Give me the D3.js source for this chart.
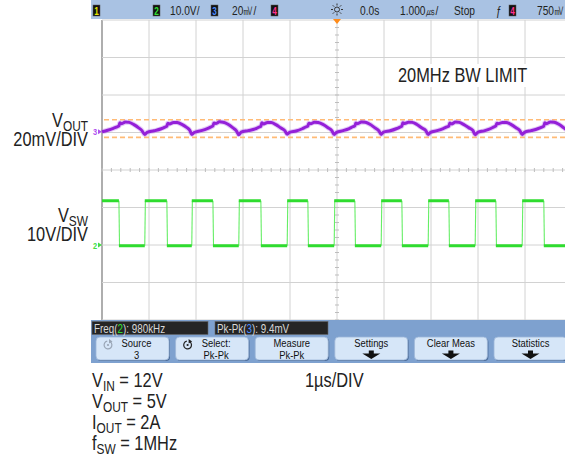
<!DOCTYPE html>
<html><head><meta charset="utf-8">
<script src="https://cdn.jsdelivr.net/npm/d3@7"></script>
<style>
html,body{margin:0;padding:0;background:#fff;}
svg{display:block;}
.lbl{font-family:"Liberation Sans","Arial",sans-serif;fill:#222;}
.ui{font-family:"Liberation Sans","Arial",sans-serif;}
</style></head>
<body>
<svg id="c" width="565" height="462"></svg>
<script>
// ---------------- data ----------------
const timeDomainUs = [-5, 5];          // 1us/DIV, 10 divisions
const divDomain = [-4, 4];             // 8 vertical divisions
const timeGridUs = [-5,-4,-3,-2,-1,0,1,2,3,4,5];
const divGrid = [-4,-3,-2,-1,0,1,2,3,4];

// Channel 2 (V_SW, 10V/DIV)
const ch2OffsetDiv = -2.0;
const ch2VoltsPerDiv = 10;
const swLevelsV = [11.8, -0.2];        // high, low
const swFallUs = [-4.64, -3.62, -2.64, -1.62, -0.62, 0.38, 1.38, 2.38, 3.38, 4.40];
const swRiseUs = [-4.09, -3.09, -2.09, -1.06, -0.06, 0.94, 1.94, 2.94, 3.94];

// Channel 3 (V_OUT ripple, 20mV/DIV)
const ch3OffsetDiv = 1.02;
const ch3mVPerDiv = 20;
const voutTimeUs = [
 -5.00,-4.88,-4.76,-4.68,-4.64,-4.62,-4.58,-4.50,-4.42,-4.32,-4.22,-4.15,-4.09,
 -4.04,-3.89,-3.74,-3.66,-3.62,-3.60,-3.56,-3.48,-3.40,-3.30,-3.20,-3.13,-3.09,
 -3.04,-2.89,-2.76,-2.68,-2.64,-2.62,-2.58,-2.50,-2.42,-2.32,-2.22,-2.14,-2.09,
 -2.04,-1.89,-1.74,-1.66,-1.62,-1.60,-1.56,-1.48,-1.40,-1.30,-1.20,-1.11,-1.06,
 -1.01,-0.87,-0.74,-0.66,-0.62,-0.60,-0.56,-0.48,-0.40,-0.30,-0.20,-0.11,-0.06,
 -0.01, 0.13, 0.26, 0.34, 0.38, 0.40, 0.44, 0.52, 0.60, 0.70, 0.80, 0.89, 0.94,
  0.99, 1.13, 1.26, 1.34, 1.38, 1.40, 1.44, 1.52, 1.60, 1.70, 1.80, 1.89, 1.94,
  1.99, 2.13, 2.26, 2.34, 2.38, 2.40, 2.44, 2.52, 2.60, 2.70, 2.80, 2.89, 2.94,
  2.99, 3.13, 3.26, 3.34, 3.38, 3.40, 3.44, 3.52, 3.60, 3.70, 3.80, 3.89, 3.94,
  3.99, 4.13, 4.27, 4.36, 4.40, 4.42, 4.46, 4.54, 4.62, 4.72, 4.82, 4.90, 4.95, 5.00
];
const voutRipplemV = [
  0.0, 0.8, 1.8, 2.6, 3.1, 4.8, 4.3, 5.2, 5.0, 3.8, 2.1, 0.6,-1.5,
 -0.3, 0.5, 1.6, 2.5, 3.0, 4.6, 4.2, 5.0, 4.9, 3.9, 2.3, 0.7,-1.4,
 -0.4, 0.6, 1.7, 2.6, 3.1, 4.7, 4.4, 5.3, 5.1, 4.0, 2.2, 0.5,-1.6,
 -0.2, 0.6, 1.5, 2.5, 2.9, 4.8, 4.2, 5.0, 5.0, 3.8, 2.1, 0.6,-1.3,
 -0.3, 0.4, 1.6, 2.6, 3.0, 4.6, 4.3, 5.1, 4.9, 3.9, 2.3, 0.6,-1.5,
 -0.3, 0.6, 1.7, 2.7, 3.1, 4.7, 4.3, 5.2, 5.1, 4.0, 2.2, 0.5,-1.4,
 -0.2, 0.5, 1.6, 2.5, 3.0, 4.8, 4.4, 5.1, 5.0, 3.9, 2.1, 0.6,-1.5,
 -0.3, 0.6, 1.7, 2.6, 3.0, 4.7, 4.2, 5.2, 5.0, 3.8, 2.2, 0.7,-1.6,
 -0.4, 0.5, 1.6, 2.6, 3.1, 4.6, 4.3, 5.0, 5.0, 3.9, 2.3, 0.6,-1.4,
 -0.3, 0.6, 1.6, 2.5, 3.0, 4.8, 4.3, 5.2, 5.1, 4.0, 2.2, 0.6,-1.5,-0.3
];
const cursorsmV = [6.4, -3.0];         // Pk-Pk cursors

// header / measurement texts
const headerItems = [
  {type:"box", x:93, label:"1", color:"#e8e800"},
  {type:"box", x:153, label:"2", color:"#33e033"},
  {type:"text", x:170, label:"10.0V/"},
  {type:"box", x:211, label:"3", color:"#4a8cff"},
  {type:"text", x:232, label:"20\u33B7/"},
  {type:"box", x:271, label:"4", color:"#ff3090"},
  {type:"text", x:360, label:"0.0s"},
  {type:"text", x:400, label:"1.000\u33B2/"},
  {type:"text", x:454, label:"Stop"},
  {type:"text", x:496, label:"\u0192"},
  {type:"box", x:509, label:"4", color:"#ff3090"},
  {type:"text", x:537, label:"750\u33B7"}
];
const buttonLabels = [["Source","3"],["Select:","Pk-Pk"],["Measure","Pk-Pk"],["Settings",""],["Clear Meas",""],["Statistics",""]];
const buttonIcons = ["cycle","cycle","none","arrow","arrow","arrow"];

// ---------------- drawing ----------------
const NARROW = 0.82;
const svg = d3.select("#c");
const x = d3.scaleLinear().domain(timeDomainUs).range([102, 572]);
const yDiv = d3.scaleLinear().domain(divDomain).range([320, 20]);
const y2 = v => yDiv(ch2OffsetDiv + v / ch2VoltsPerDiv);
const y3 = mv => yDiv(ch3OffsetDiv + mv / ch3mVPerDiv);

function ctext(xx, yy, size, cls, anchor, sx) {
  const g = svg.append("g").attr("transform", `translate(${xx},${yy}) scale(${sx || NARROW},1)`);
  return g.append("text").attr("class", cls).attr("x", 0).attr("y", 0)
    .attr("font-size", size).attr("text-anchor", anchor || "start");
}

// grid
const grid = svg.append("g");
grid.selectAll("line.v").data(timeGridUs).join("line")
  .attr("x1", d => x(d)).attr("x2", d => x(d)).attr("y1", yDiv(4)).attr("y2", yDiv(-4))
  .attr("stroke", d => d === -5 ? "#9a9a9a" : "#d2d2d2").attr("stroke-width", d => d === -5 ? 1.6 : 1);
grid.selectAll("line.h").data(divGrid).join("line")
  .attr("x1", x(-5)).attr("x2", x(5)).attr("y1", d => yDiv(d)).attr("y2", d => yDiv(d))
  .attr("stroke", "#d2d2d2").attr("stroke-width", 1);
const minorT = d3.range(-5, 5.001, 0.2);
grid.selectAll("line.mt").data(minorT).join("line")
  .attr("x1", d => x(d)).attr("x2", d => x(d)).attr("y1", yDiv(0) - 2).attr("y2", yDiv(0) + 2)
  .attr("stroke", "#bdbdbd");
const minorD = d3.range(-4, 4.001, 0.2);
grid.selectAll("line.md").data(minorD).join("line")
  .attr("x1", x(0) - 2).attr("x2", x(0) + 2).attr("y1", d => yDiv(d)).attr("y2", d => yDiv(d))
  .attr("stroke", "#bdbdbd");

// annotation box (covers grid)
svg.append("rect").attr("x", 394).attr("y", 64).attr("width", 140).attr("height", 23).attr("fill", "#fff");
ctext(398, 82, 19.5, "lbl", "start", 0.84).text("20MHz BW LIMIT");

// cursors
svg.selectAll("line.cur").data(cursorsmV).join("line")
  .attr("x1", x(-5) + 2).attr("x2", x(5)).attr("y1", d => y3(d)).attr("y2", d => y3(d))
  .attr("stroke", "#ffbb77").attr("stroke-width", 1.6).attr("stroke-dasharray", "5,3");

// V_OUT trace
const voutPts = voutTimeUs.map((t, i) => [t, voutRipplemV[i]]);
const lineV = d3.line().x(d => x(d[0])).y(d => y3(d[1])).curve(d3.curveMonotoneX);
svg.append("path").attr("d", lineV(voutPts)).attr("fill", "none")
  .attr("stroke", "#b366ee").attr("stroke-width", 5).attr("stroke-opacity", 0.35);
svg.append("path").attr("d", lineV(voutPts)).attr("fill", "none")
  .attr("stroke", "#9420d8").attr("stroke-width", 3).attr("stroke-linejoin", "round");

// V_SW trace
const edges = [];
swFallUs.forEach(t => edges.push({t, to: 1}));
swRiseUs.forEach(t => edges.push({t, to: 0}));
edges.sort((a, b) => a.t - b.t);
const flats = []; const verts = [];
let state = 0, t0 = timeDomainUs[0];
edges.forEach(e => {
  flats.push({a: t0, b: e.t, v: swLevelsV[state]});
  verts.push({t: e.t, v0: swLevelsV[state], v1: swLevelsV[e.to]});
  state = e.to; t0 = e.t;
});
flats.push({a: t0, b: timeDomainUs[1], v: swLevelsV[state]});
svg.selectAll("line.vert").data(verts).join("line")
  .attr("x1", d => x(d.t)).attr("x2", d => x(d.t) + 0.6).attr("y1", d => y2(d.v0)).attr("y2", d => y2(d.v1))
  .attr("stroke", "#66ee66").attr("stroke-width", 1.1);
svg.selectAll("line.flat").data(flats).join("line")
  .attr("x1", d => x(d.a)).attr("x2", d => x(d.b)).attr("y1", d => y2(d.v)).attr("y2", d => y2(d.v))
  .attr("stroke", "#2fdc2f").attr("stroke-width", 3);

// ground markers
function gndMarker(yy, label, color) {
  ctext(93, yy + 3.5, 9, "ui").attr("fill", color).attr("font-weight", "bold").text(label);
  svg.append("path").attr("d", `M98,${yy - 2.5}L102,${yy}L98,${yy + 2.5}Z`).attr("fill", color);
}
gndMarker(y3(0), "3", "#b050ee");
gndMarker(y2(0), "2", "#44dd44");

// labels with subscripts
function subLabel(xx, yy, main, sub, rest, anchor) {
  const t = ctext(xx, yy, 20, "lbl", anchor);
  t.append("tspan").text(main);
  t.append("tspan").attr("font-size", 14.5).attr("dy", 3.5).text(sub);
  if (rest) t.append("tspan").attr("dy", -3.5).text(rest);
  return t;
}
subLabel(88, 127, "V", "OUT", "", "end");
ctext(88, 146, 20, "lbl", "end").text("20mV/DIV");
subLabel(88, 222, "V", "SW", "", "end");
ctext(88, 241, 20, "lbl", "end").text("10V/DIV");

// header bar
svg.append("rect").attr("x", 91).attr("y", 0).attr("width", 480).attr("height", 19).attr("fill", "#a9c2e3");
headerItems.forEach(h => {
  if (h.type === "box") {
    svg.append("rect").attr("x", h.x).attr("y", 5).attr("width", 7).attr("height", 11).attr("fill", "#111").attr("stroke","#555").attr("stroke-width",0.5);
    ctext(h.x + 3.5, 14.5, 10, "ui", "middle").attr("font-weight","bold").attr("fill", h.color).text(h.label);
  } else {
    ctext(h.x, 14.5, 12, "ui", "start", 0.85).attr("fill", "#222").text(h.label);
  }
});
const sun = svg.append("g").attr("transform", `translate(${x(0)},9.5)`).attr("stroke", "#333").attr("stroke-width", 1);
sun.append("circle").attr("r", 2.5).attr("fill", "none");
d3.range(8).forEach(i => {
  const a = i * Math.PI / 4;
  sun.append("line").attr("x1", Math.cos(a) * 4).attr("y1", Math.sin(a) * 4).attr("x2", Math.cos(a) * 6).attr("y2", Math.sin(a) * 6);
});
svg.append("path").attr("d", `M${x(0) - 4},19L${x(0) + 4},19L${x(0)},24Z`).attr("fill", "#ff8c1a");

// bottom panel
svg.append("rect").attr("x", 91).attr("y", 320).attr("width", 480).attr("height", 43).attr("fill", "#7ea1cf");
svg.append("rect").attr("x", 92).attr("y", 321.5).attr("width", 116).attr("height", 13).attr("fill", "#252525").attr("stroke","#666").attr("stroke-width",0.6);
svg.append("rect").attr("x", 215).attr("y", 321.5).attr("width", 113).attr("height", 13).attr("fill", "#252525").attr("stroke","#666").attr("stroke-width",0.6);
const m1 = ctext(94, 332.5, 12, "ui").attr("fill", "#d8d8d8");
m1.append("tspan").text("Freq(");
m1.append("tspan").attr("fill", "#33e033").text("2");
m1.append("tspan").text("): 980kHz");
const m2 = ctext(217, 332.5, 12, "ui").attr("fill", "#d8d8d8");
m2.append("tspan").text("Pk-Pk(");
m2.append("tspan").attr("fill", "#4a8cff").text("3");
m2.append("tspan").text("): 9.4mV");

const btnX = d3.scalePoint().domain(d3.range(buttonLabels.length)).range([96, 494]);
buttonLabels.forEach((lab, i) => {
  const bx = btnX(i), bw = 73, cx = bx + bw / 2;
  svg.append("rect").attr("x", bx + 1).attr("y", 338).attr("width", bw).attr("height", 23).attr("rx", 4).attr("fill", "#4d6d99");
  svg.append("rect").attr("x", bx).attr("y", 337).attr("width", bw).attr("height", 23).attr("rx", 4)
    .attr("fill", "#d6e6f8").attr("stroke", "#9db6d8").attr("stroke-width", 0.8);
  const off = buttonIcons[i] === "cycle" ? 4 : 0;
  ctext(cx + off, 347, 11.5, "ui", "middle").attr("fill","#111").text(lab[0]);
  if (lab[1]) ctext(cx + off, 358.5, 11.5, "ui", "middle").attr("fill","#111").text(lab[1]);
  if (buttonIcons[i] === "arrow") {
    svg.append("path").attr("d", `M${cx-2.5},350.5H${cx+2.5}V353.5H${cx+9}L${cx},359L${cx-9},353.5H${cx-2.5}Z`).attr("fill", "#111");
  } else if (buttonIcons[i] === "cycle") {
    const col = i === 0 ? "#9aa6b6" : "#222";
    const ix = bx + 12, iy = 345;
    svg.append("path").attr("d", d3.arc()({innerRadius: 3.3, outerRadius: 4.5, startAngle: 0.6, endAngle: 2 * Math.PI - 0.2}))
      .attr("transform", `translate(${ix},${iy})`).attr("fill", col);
    svg.append("circle").attr("cx", ix).attr("cy", iy).attr("r", 1.1).attr("fill", col);
    svg.append("path").attr("d", `M${ix+1},${iy-6}L${ix+4.5},${iy-3.5}L${ix+1},${iy-1.5}Z`).attr("fill", col);
  }
});

// bottom conditions
subLabel(92, 387, "V", "IN", " = 12V");
subLabel(92, 408, "V", "OUT", " = 5V");
subLabel(92, 429, "I", "OUT", " = 2A");
subLabel(92, 450, "f", "SW", " = 1MHz");
ctext(305, 387, 20, "lbl").text("1\u00B5s/DIV");
</script>
</body></html>
